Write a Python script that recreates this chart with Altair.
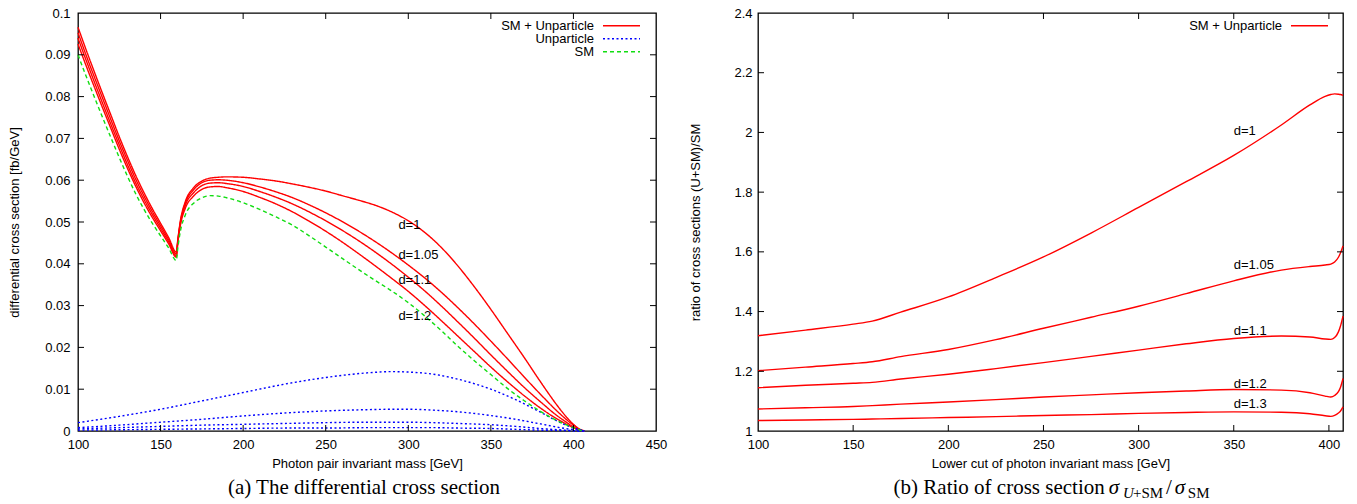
import altair as alt
import pandas as pd

FONT = "Liberation Sans"
SERIF = "Liberation Serif"
RED, BLUE, GREEN = "#ff0000", "#0000ff", "#11dd11"

# ---------------- left panel data ----------------
pre_x = [100, 105, 110, 115, 120, 125, 130, 135, 140, 145, 150, 155, 159.5]
post_x = [160.5, 162, 165, 170, 175, 180, 185, 190, 200, 210, 220, 230, 240, 250, 260,
          270, 280, 290, 300, 310, 320, 330, 340, 350, 360, 370, 380, 390, 395, 400, 403, 405, 407]

sm_pre = [.0900, .0848, .0798, .0749, .0701, .0654, .0609, .0567, .0530, .0497, .0467, .0437, .0408]
sm_post = [.0440, .0478, .0517, .0545, .0558, .0563, .0562, .0558, .0546, .0530, .0512, .0492, .0467, .0440,
           .0413, .0386, .0360, .0335, .0307, .0275, .0240, .0203, .0168, .0135, .0102, .0073, .0047, .0025,
           .0016, .0008, .0004, .0001, 0]

su_pre = {
    "1": [.0966, .0911, .0858, .0806, .0755, .0704, .0656, .0611, .0570, .0532, .0497, .0462, .0428],
    "1.05": [.0953, .0898, .0846, .0795, .0744, .0694, .0647, .0602, .0562, .0525, .0491, .0457, .0424],
    "1.1": [.0940, .0886, .0834, .0783, .0733, .0684, .0637, .0593, .0554, .0518, .0485, .0452, .0420],
    "1.2": [.0926, .0873, .0822, .0772, .0723, .0674, .0628, .0585, .0546, .0511, .0479, .0447, .0416],
}
su_post = {
    "1": [.0460, .0503, .0549, .0582, .0598, .0605, .0607, .0608, .0607, .0603, .0598, .0591, .0583, .0574,
          .0563, .0552, .0540, .0524, .0503, .0475, .0439, .0395, .0345, .0291, .0234, .0177, .0118, .0062,
          .0037, .0016, .0006, .0002, 0],
    "1.05": [.0457, .0500, .0545, .0577, .0594, .0600, .0601, .0600, .0594, .0584, .0572, .0558, .0541, .0522,
             .0501, .0478, .0453, .0426, .0397, .0366, .0332, .0295, .0256, .0215, .0173, .0130, .0088, .0048,
             .0030, .0014, .0006, .0002, 0],
    "1.1": [.0455, .0497, .0540, .0570, .0587, .0593, .0594, .0592, .0585, .0573, .0559, .0543, .0524, .0503,
            .0480, .0455, .0428, .0399, .0368, .0335, .0299, .0261, .0222, .0182, .0143, .0105, .0070, .0037,
            .0023, .0010, .0004, .0001, 0],
    "1.2": [.0452, .0492, .0533, .0562, .0578, .0584, .0585, .0582, .0573, .0559, .0543, .0524, .0502, .0478,
            .0452, .0424, .0395, .0365, .0334, .0300, .0264, .0227, .0190, .0153, .0118, .0085, .0055, .0029,
            .0018, .0008, .0003, .0001, 0],
}

unp_x = [100, 125, 150, 175, 200, 225, 250, 275, 290, 300, 315, 330, 350, 365, 380, 395, 405, 407]
unp = {
    "1": [.0020, .0035, .0052, .0072, .0092, .0112, .0128, .0139, .0142, .0141, .0136, .0124, .0100, .0075,
          .0045, .0015, .0002, 0],
    "1.05": [.0008, .0014, .0021, .0028, .0036, .0043, .0048, .0051, .0052, .0052, .0050, .0046, .0037, .0028,
             .0017, .0006, .0001, 0],
    "1.1": [.0005, .0008, .0011, .0014, .0016, .0018, .0020, .0021, .0021, .0021, .0020, .0018, .0015, .0011,
            .0006, .0002, 0, 0],
    "1.2": [.0002, .0003, .0004, .0005, .0006, .0007, .0007, .0008, .0008, .0008, .0008, .0007, .0006, .0004,
            .0002, .0001, 0, 0],
}

left_labels = ["d=1", "d=1.05", "d=1.1", "d=1.2"]
left_label_x = [294, 294, 294, 294]
left_label_y = [.0494, .0422, .0362, .0276]

left_xticks = [100, 150, 200, 250, 300, 350, 400, 450]
left_yticks = [0, .01, .02, .03, .04, .05, .06, .07, .08, .09, .1]

# ---------------- right panel data ----------------
r_x = [100, 125, 150, 160, 175, 200, 225, 250, 275, 300, 325, 350, 375, 390, 398, 401, 403, 405, 406, 407.4]
ratio = {
    "1": [1.319, 1.338, 1.358, 1.368, 1.398, 1.449, 1.514, 1.583, 1.663, 1.749, 1.835, 1.923, 2.025, 2.092,
          2.121, 2.127, 2.129, 2.128, 2.127, 2.124],
    "1.05": [1.202, 1.214, 1.226, 1.232, 1.249, 1.273, 1.306, 1.344, 1.381, 1.418, 1.460, 1.503, 1.539, 1.551,
             1.556, 1.559, 1.566, 1.582, 1.595, 1.620],
    "1.1": [1.145, 1.153, 1.160, 1.163, 1.174, 1.190, 1.209, 1.229, 1.250, 1.271, 1.292, 1.310, 1.318, 1.315,
            1.308, 1.307, 1.313, 1.332, 1.350, 1.385],
    "1.2": [1.0736, 1.078, 1.082, 1.085, 1.090, 1.097, 1.105, 1.114, 1.121, 1.128, 1.134, 1.139, 1.137, 1.128,
            1.117, 1.114, 1.119, 1.132, 1.145, 1.176],
    "1.3": [1.035, 1.037, 1.039, 1.040, 1.042, 1.045, 1.048, 1.052, 1.055, 1.059, 1.062, 1.064, 1.063, 1.058,
            1.051, 1.049, 1.052, 1.060, 1.066, 1.081],
}
right_labels = ["d=1", "d=1.05", "d=1.1", "d=1.2", "d=1.3"]
right_label_x = [350, 350, 350, 350, 350]
right_label_y = [2.005, 1.555, 1.334, 1.159, 1.090]

right_xticks = [100, 150, 200, 250, 300, 350, 400]
right_yticks = [1, 1.2, 1.4, 1.6, 1.8, 2, 2.2, 2.4]

legend_left = ["SM + Unparticle", "Unparticle", "SM"]
legend_right = ["SM + Unparticle"]

# ---------------- build tables ----------------
rows = []
for d in su_pre:
    for xv, yv in zip(pre_x + post_x, su_pre[d] + su_post[d]):
        rows.append({"x": xv, "y": yv, "series": "su" + d, "kind": "sum"})
for d in unp:
    for xv, yv in zip(unp_x, unp[d]):
        rows.append({"x": xv, "y": yv, "series": "u" + d, "kind": "unp"})
for xv, yv in zip(pre_x + post_x, sm_pre + sm_post):
    rows.append({"x": xv, "y": yv, "series": "sm", "kind": "sm"})
df_left = pd.DataFrame(rows)

rrows = []
for d in ratio:
    for xv, yv in zip(r_x, ratio[d]):
        rrows.append({"x": xv, "y": yv, "series": d})
df_right = pd.DataFrame(rrows)

W1, W2, H = 578, 585, 418
TICK = 6
LBL = "'' + datum.value"


def panel(df, W, xdom, ydom, xticks, yticks, xtitle, ytitle, ypad, ytpad,
          labels, lx, ly, legend_items, legend_right_edge, line_layer):
    xs = alt.Scale(domain=xdom, nice=False, zero=False)
    ys = alt.Scale(domain=ydom, nice=False, zero=False)
    xaxis = alt.Axis(values=xticks, title=xtitle, labelPadding=7, titlePadding=6, labelExpr=LBL,
                     labelFlush=False, labelOverlap=False)
    yaxis = alt.Axis(values=yticks, title=ytitle, labelPadding=ypad, titlePadding=ytpad, labelExpr=LBL,
                     labelFlush=False, labelOverlap=False)
    X = lambda: alt.X("x:Q", scale=xs, axis=xaxis)
    Y = lambda: alt.Y("y:Q", scale=ys, axis=yaxis)
    lines = line_layer(alt.Chart(df), X(), Y())

    xt = pd.DataFrame({"x": [v for v in xticks if xdom[0] < v < xdom[1]]})
    yt = pd.DataFrame({"y": [v for v in yticks if ydom[0] < v < ydom[1]]})
    tb = alt.Chart(xt).mark_rule(color="black", strokeWidth=1).encode(
        x=X(), y=alt.value(H), y2=alt.value(H - TICK))
    tt = alt.Chart(xt).mark_rule(color="black", strokeWidth=1).encode(
        x=X(), y=alt.value(0), y2=alt.value(TICK))
    tl = alt.Chart(yt).mark_rule(color="black", strokeWidth=1).encode(
        y=Y(), x=alt.value(0), x2=alt.value(TICK))
    tr = alt.Chart(yt).mark_rule(color="black", strokeWidth=1).encode(
        y=Y(), x=alt.value(W), x2=alt.value(W - TICK))

    lab = alt.Chart(pd.DataFrame({"x": lx, "y": ly, "t": labels})).mark_text(
        align="left", baseline="middle", font=FONT, fontSize=13, color="black").encode(
        x=X(), y=Y(), text="t:N")

    layers = [lines, tb, tt, tl, tr, lab]
    one = pd.DataFrame({"a": [0]})
    for i, (txt, col, dash) in enumerate(legend_items):
        yy = 12.7 + 13 * i
        layers.append(alt.Chart(one).mark_text(
            align="right", baseline="middle", font=FONT, fontSize=13, color="black", text=txt).encode(
            x=alt.value(legend_right_edge), y=alt.value(yy)))
        layers.append(alt.Chart(one).mark_rule(color=col, strokeWidth=1.5, strokeDash=dash).encode(
            x=alt.value(legend_right_edge + 9), x2=alt.value(legend_right_edge + 46), y=alt.value(yy)))
    return layers


def left_lines(base, X, Y):
    return base.mark_line(strokeWidth=1.4, interpolate="monotone").encode(
        x=X, y=Y,
        color=alt.Color("kind:N", scale=alt.Scale(domain=["sum", "unp", "sm"], range=[RED, BLUE, GREEN]),
                        legend=None),
        strokeDash=alt.StrokeDash("kind:N", scale=alt.Scale(domain=["sum", "unp", "sm"],
                                                             range=[[1, 0], [2, 2.5], [4, 3]]), legend=None),
        detail="series:N",
    )


def right_lines(base, X, Y):
    return base.mark_line(strokeWidth=1.4, interpolate="monotone", color=RED).encode(
        x=X, y=Y, detail="series:N")


one = pd.DataFrame({"a": [0]})

left_layers = panel(df_left, W1, [100, 450], [0, 0.1], left_xticks, left_yticks,
                    "Photon pair invariant mass [GeV]", "differential cross section [fb/GeV]", 8, 23,
                    left_labels, left_label_x, left_label_y,
                    [(legend_left[0], RED, [1, 0]), (legend_left[1], BLUE, [2, 2.5]), (legend_left[2], GREEN, [4, 3])],
                    516, left_lines)
left_layers.append(alt.Chart(one).mark_text(
    align="center", baseline="alphabetic", font=SERIF, fontSize=21, color="black",
    text="(a) The differential cross section").encode(x=alt.value(286), y=alt.value(481)))
left = alt.layer(*left_layers).properties(width=W1, height=H)

right_layers = panel(df_right, W2, [100, 407.4], [1, 2.4], right_xticks, right_yticks,
                     "Lower cut of photon invariant mass [GeV]", "ratio of cross sections (U+SM)/SM", 6, 31,
                     right_labels, right_label_x, right_label_y,
                     [(legend_right[0], RED, [1, 0])], 524, right_lines)
cap_parts = [
    ("(b) Ratio of cross section", 135.6, 481, 21, "normal"),
    ("σ", 350.7, 481, 21, "italic"),
    ("U", 365, 485, 15, "italic"),
    ("+SM", 375, 485, 15, "normal"),
    ("/", 408, 481, 21, "normal"),
    ("σ", 416.8, 481, 21, "italic"),
    ("SM", 429.8, 485, 15, "normal"),
]
for txt, xx, yy, fs, st in cap_parts:
    right_layers.append(alt.Chart(one).mark_text(
        align="left", baseline="alphabetic", font=SERIF, fontSize=fs, fontStyle=st, color="black",
        text=txt).encode(x=alt.value(xx), y=alt.value(yy)))
right = alt.layer(*right_layers).properties(width=W2, height=H)

chart = alt.hconcat(left, right, spacing=21).properties(
    padding={"left": 8, "top": 6, "right": 0, "bottom": 0}, background="white"
).configure_view(stroke="black", strokeWidth=1.3).configure_axis(
    grid=False, domain=False, ticks=False, tickSize=0, labelFont=FONT, labelFontSize=13, labelColor="black",
    titleFont=FONT, titleFontSize=13, titleFontWeight="normal", titleColor="black"
)

chart.save("out.html", embed_options={"renderer": "svg", "actions": False})
